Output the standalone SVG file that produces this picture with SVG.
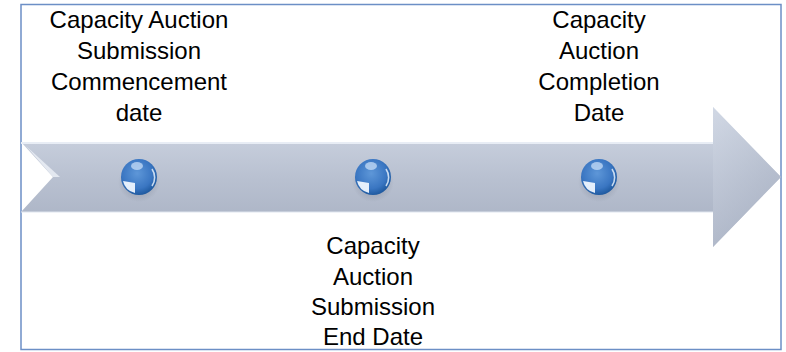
<svg xmlns="http://www.w3.org/2000/svg" width="786" height="352" viewBox="0 0 786 352">
<defs>
<linearGradient id="band" x1="0" y1="0" x2="0" y2="1">
<stop offset="0" stop-color="#d3dae6"/>
<stop offset="0.5" stop-color="#b9c1d1"/>
<stop offset="1" stop-color="#a4adbf"/>
</linearGradient>
<linearGradient id="head" x1="0" y1="0" x2="1" y2="1">
<stop offset="0" stop-color="#d0d7e4"/>
<stop offset="1" stop-color="#a4adbf"/>
</linearGradient>
<radialGradient id="ball" cx="0.45" cy="0.4" r="0.6">
<stop offset="0" stop-color="#5e97d8"/>
<stop offset="0.7" stop-color="#3a76c2"/>
<stop offset="1" stop-color="#1f5aa0"/>
</radialGradient>
<radialGradient id="shadow" cx="0.5" cy="0.5" r="0.5">
<stop offset="0" stop-color="#5a6070" stop-opacity="0.5"/>
<stop offset="1" stop-color="#5a6070" stop-opacity="0"/>
</radialGradient>
<g id="sphere">
<ellipse cx="0" cy="5" rx="21" ry="20" fill="url(#shadow)"/>
<circle r="18" fill="url(#ball)"/>
<ellipse cx="-2" cy="-11" rx="6" ry="4" fill="#cfe3fa" opacity="0.7"/>
<path d="M-16,4 A16,16 0 0 0 -4,16 L-4,6 Z" fill="#eef6fe" opacity="0.95"/>
<path d="M13,-8 A15,15 0 0 1 13,9" fill="none" stroke="#e3effc" stroke-width="1.6" opacity="0.85"/>
</g>
</defs>
<style>
text{font-family:"Liberation Sans",Arial,sans-serif;font-size:24px;fill:#000;text-anchor:middle}
</style>
<rect x="21" y="4.5" width="760" height="345" fill="#fff" stroke="#6c8fc6" stroke-width="1.5"/>
<g id="arrow">
<path d="M21,142 L713,142 L713,107 L781,177 L713,247 L713,212 L21,212 L53,177 Z" fill="url(#band)"/>
<path d="M713,107 L781,177 L713,247 Z" fill="url(#head)" opacity="0.6"/>
<line x1="21" y1="143" x2="713" y2="143" stroke="#e8edf5" stroke-width="2"/>
<line x1="21" y1="212" x2="713" y2="212" stroke="#dfe5ef" stroke-width="1"/>
<path d="M26,146 L60,177 L53,177 Z" fill="#eef1f7" opacity="0.8"/>
</g>
<g id="node1">
<use href="#sphere" x="139" y="177"/>
<text x="139" y="28">Capacity Auction</text>
<text x="139" y="59">Submission</text>
<text x="139" y="90">Commencement</text>
<text x="139" y="121">date</text>
</g>
<g id="node2">
<use href="#sphere" x="373" y="177"/>
<text x="373" y="254">Capacity</text>
<text x="373" y="285">Auction</text>
<text x="373" y="315">Submission</text>
<text x="373" y="345">End Date</text>
</g>
<g id="node3">
<use href="#sphere" x="599" y="177"/>
<text x="599" y="28">Capacity</text>
<text x="599" y="59">Auction</text>
<text x="599" y="90">Completion</text>
<text x="599" y="121">Date</text>
</g>
<g id="connectors"/>
</svg>
